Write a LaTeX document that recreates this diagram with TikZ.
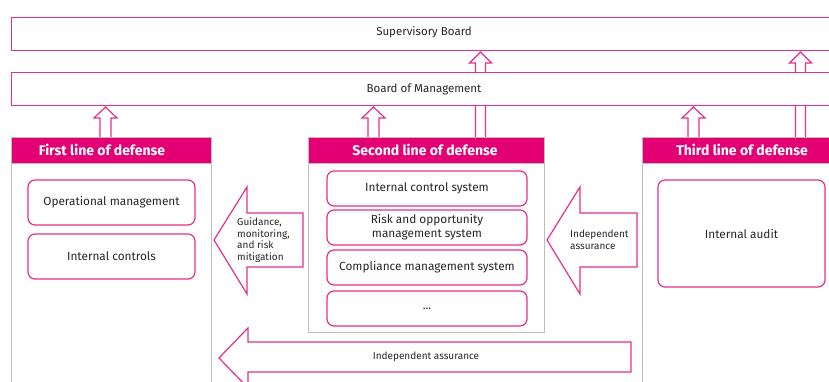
\documentclass[tikz,border=0pt]{standalone}
\usepackage{fontspec}
\setmainfont{Fira Sans}
\definecolor{tmag}{HTML}{E20074}
\definecolor{tpink}{HTML}{E6308A}
\definecolor{tgray}{HTML}{BDBDBD}
\definecolor{ttext}{HTML}{262626}
\begin{document}
\begin{tikzpicture}[x=1pt,y=-1pt,
  pinkline/.style={draw=tpink,line width=1.2pt},
  board/.style={pinkline,fill=white,inner sep=0pt},
  boardtext/.style={text=ttext,font=\fontsize{11.5}{13}\selectfont},
  item/.style={pinkline,fill=white,rounded corners=7pt,inner sep=0pt,align=center,font=\fontsize{11.8}{14}\selectfont,text=ttext},
  header/.style={fill=tmag,draw=tgray,line width=0.8pt,inner sep=0pt},
  headtext/.style={text=white,font=\fontsize{14}{16}\selectfont\bfseries},
  body/.style={draw=tgray,line width=0.9pt,fill=white,inner sep=0pt},
  blockarrow/.style={pinkline,fill=white,line join=miter},
  lbl/.style={font=\fontsize{10}{11.5}\selectfont,text=ttext,inner sep=0pt}
]
\useasboundingbox (0,0) rectangle (829,381);
\clip (0,0) rectangle (829,381);
\fill[white] (0,0) rectangle (829,381);

% long up arrows (shafts pass under Board of Management)
\draw[blockarrow] (475.5,137) -- (475.5,63) -- (469.5,63) -- (480.5,52) -- (491.5,63) -- (485.5,63) -- (485.5,137);
\draw[blockarrow] (795.5,137) -- (795.5,63) -- (789.5,63) -- (800.5,52) -- (811.5,63) -- (805.5,63) -- (805.5,137);

% boards
\node[board,minimum width=840pt,minimum height=33pt,anchor=north west] (sb) at (11,17) {};
\node[boardtext] (sbt) at (424,32) {Supervisory Board};
\node[board,minimum width=840pt,minimum height=33pt,anchor=north west] (bom) at (11,72) {};
\node[boardtext] (bomt) at (424,89) {Board of Management};

% short up arrows into Board of Management
\draw[blockarrow] (100,137) -- (100,118) -- (94,118) -- (105.5,107) -- (117,118) -- (111,118) -- (111,137);
\draw[blockarrow] (368,137) -- (368,118) -- (362,118) -- (373.5,107) -- (385,118) -- (379,118) -- (379,137);
\draw[blockarrow] (688,137) -- (688,118) -- (682,118) -- (693.5,107) -- (705,118) -- (699,118) -- (699,137);

% line bodies
\node[body,minimum width=200pt,minimum height=240pt,anchor=north west] (b1) at (11,163) {};
\node[body,minimum width=236pt,minimum height=169pt,anchor=north west] (b2) at (308,163) {};
\node[body,minimum width=200pt,minimum height=240pt,anchor=north west] (b3) at (642,163) {};

% headers
\node[header,minimum width=200pt,minimum height=26pt,anchor=north west] (h1) at (11,137) {};
\node[headtext] (h1t) at (102,150) {First line of defense};
\node[header,minimum width=236pt,minimum height=26pt,anchor=north west] (h2) at (308,137) {};
\node[headtext] (h2t) at (425,150) {Second line of defense};
\node[header,minimum width=200pt,minimum height=26pt,anchor=north west] (h3) at (642,137) {};
\node[headtext] (h3t) at (742,150) {Third line of defense};

% first line items
\node[item,minimum width=167pt,minimum height=45pt] (op) at (111.5,202.5) {Operational management};
\node[item,minimum width=167pt,minimum height=45pt] (ic) at (111.5,256.5) {Internal controls};

% second line items
\node[item,minimum width=200pt,minimum height=35pt] (ics) at (427,188.5) {Internal control system};
\node[item,minimum width=200pt,minimum height=35pt] (rom) at (427,227.5) {Risk and opportunity\\management system};
\node[item,minimum width=200pt,minimum height=35pt] (cms) at (427,267.5) {Compliance management system};
\node[item,minimum width=200pt,minimum height=35pt] (dots) at (427,308.5) {...};

% third line item
\node[item,minimum width=167pt,minimum height=107pt] (ia) at (741.5,233.5) {Internal audit};

% big block arrows
\draw[blockarrow] (214,240) -- (247,187) -- (247,213) -- (303,213) -- (303,267) -- (247,267) -- (247,294) -- cycle;
\node[lbl,align=left,anchor=west] (gl) at (237,240) {Guidance,\\monitoring,\\and risk\\mitigation};

\draw[blockarrow] (547,240) -- (580,187) -- (580,213) -- (637,213) -- (637,267) -- (580,267) -- (580,294) -- cycle;
\node[lbl,align=left,anchor=west] (ial) at (570,240) {Independent\\assurance};

\draw[blockarrow] (219,358) -- (248,328) -- (248,342) -- (631,342) -- (631,372) -- (248,372) -- (248,388) -- cycle;
\node[lbl] (ibl) at (426,357) {Independent assurance};
\end{tikzpicture}
\end{document}
